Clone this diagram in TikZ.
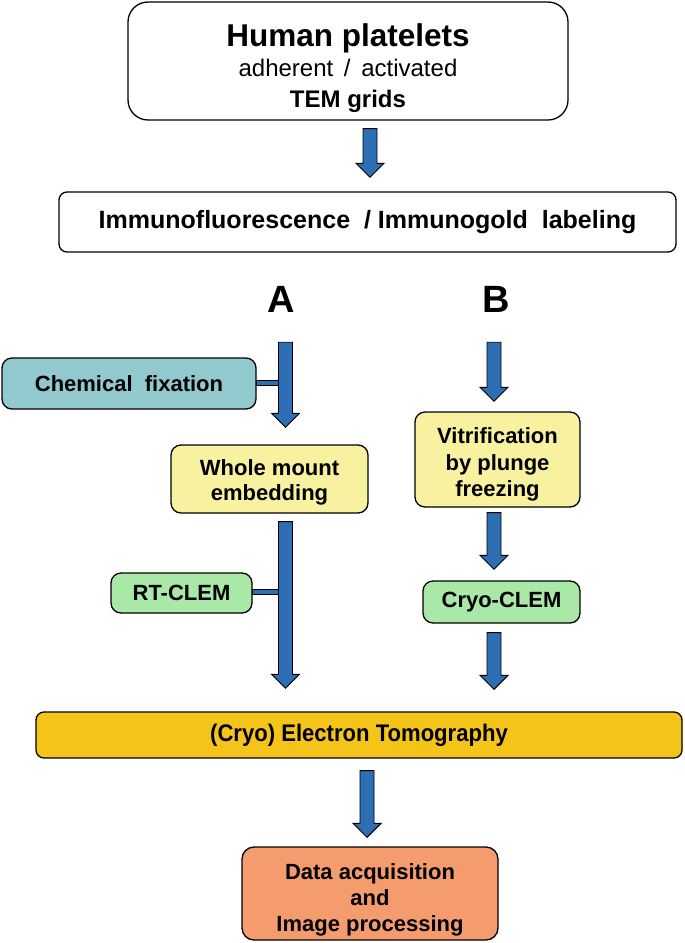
\documentclass[tikz,border=0pt]{standalone}
\usepackage{fontspec}
\setmainfont{Liberation Sans}
\newfontfamily\narrowfont[FakeStretch=0.92]{Liberation Sans}
\usetikzlibrary{calc}
\definecolor{boxteal}{RGB}{146,201,207}
\definecolor{boxyellow}{RGB}{247,241,160}
\definecolor{boxgreen}{RGB}{169,232,166}
\definecolor{boxgold}{RGB}{244,197,24}
\definecolor{boxorange}{RGB}{244,156,110}
\definecolor{arrowblue}{RGB}{46,110,180}
\tikzset{
  box/.style={draw=black, line width=1.3pt, rounded corners=10pt, align=center, inner sep=0pt,
    font=\bfseries\fontsize{22}{25}\selectfont},
  barrow/.style={fill=arrowblue, draw=black, line width=0.9pt, line join=miter},
  letter/.style={inner sep=0pt, font=\bfseries\fontsize{38}{38}\selectfont},
}
\newcommand\blockarrow[2]{%
  \draw[barrow] let \p1=(#1), \p2=(#2) in
    (\x1-7pt,\y1) -- (\x1+7pt,\y1) -- (\x1+7pt,\y2+14pt) -- (\x1+14pt,\y2+14pt)
    -- (\x1,\y2) -- (\x1-14pt,\y2+14pt) -- (\x1-7pt,\y2+14pt) -- cycle;}
\begin{document}
\begin{tikzpicture}[x=1pt, y=-1pt]
\useasboundingbox (0,0) rectangle (685,943);
% columns
\coordinate (colM) at (370,0);
\coordinate (colMb) at (367,0);
\coordinate (colA) at (285.5,0);
\coordinate (colB) at (494,0);
% boxes
\node[box, rounded corners=20pt, minimum width=440pt, minimum height=118pt,
  font=\fontsize{24}{30.5}\selectfont] (top) at (348,61)
  {\rule{0pt}{37pt}{\bfseries\fontsize{31.5}{31.5}\selectfont Human platelets}\\adherent \,/\, activated\\{\bfseries TEM grids}};
\node[box, rounded corners=8pt, minimum width=617pt, minimum height=60pt,
  font=\bfseries\fontsize{25}{28}\selectfont] (ifl) at (367.5,222)
  {Immunofluorescence\ \ /\ Immunogold\ \ labeling};
\node[letter] (labA) at (281.5,299) {A};
\node[letter] (labB) at (496,299) {B};
\node[box, fill=boxteal, minimum width=254pt, minimum height=51pt] (chem) at (129,383.5) {Chemical\ \ fixation};
\node[box, fill=boxyellow, minimum width=197pt, minimum height=68pt] (whole) at (269.5,479)
  {\rule{0pt}{22pt}Whole mount\\embedding};
\node[box, fill=boxgreen, minimum width=141pt, minimum height=40pt] (rt) at (181.5,593) {RT-CLEM};
\node[box, fill=boxyellow, minimum width=165pt, minimum height=95pt,
  font=\bfseries\fontsize{22}{26.5}\selectfont] (vit) at (497.5,459.5)
  {\rule{0pt}{26pt}Vitrification\\by plunge\\freezing};
\node[box, fill=boxgreen, minimum width=157pt, minimum height=42pt] (cryo) at (501.5,602) {Cryo-CLEM};
\node[box, fill=boxgold, rounded corners=8pt, minimum width=646pt, minimum height=46pt,
  font=\narrowfont\bfseries\fontsize{24}{24}\selectfont] (et) at (359,735) {(Cryo) Electron Tomography};
\node[box, fill=boxorange, rounded corners=12pt, minimum width=256pt, minimum height=93pt,
  font=\bfseries\fontsize{22}{26}\selectfont] (data) at (370,893.5)
  {\rule{0pt}{28pt}Data acquisition\\and\\Image processing};
% side bars
\draw[barrow] let \p1=(chem.east), \p2=(colA) in (\x1,\y1+3pt) rectangle (\x2-7pt,\y1-2pt);
\draw[barrow] let \p1=(rt.east), \p2=(colA) in (\x1,\y1+3.5pt) rectangle (\x2-7pt,\y1-1.5pt);
% arrows
\blockarrow{$(colM |- top.south)+(0,8)$}{$(colM |- ifl.north)+(0,-14)$}
\blockarrow{$(colA |- labA.south)+(0,30)$}{$(colA |- whole.north)+(0,-17)$}
\blockarrow{$(colA |- whole.south)+(0,8)$}{$(colA |- et.north)+(0,-23)$}
\blockarrow{$(colB |- labB.south)+(0,30)$}{$(colB |- vit.north)+(0,-10)$}
\blockarrow{$(colB |- vit.south)+(0,5)$}{$(colB |- cryo.north)+(0,-11)$}
\blockarrow{$(colB |- cryo.south)+(0,9)$}{$(colB |- et.north)+(0,-22)$}
\blockarrow{$(colMb |- et.south)+(0,12)$}{$(colMb |- data.north)+(0,-9)$}
\end{tikzpicture}
\end{document}
